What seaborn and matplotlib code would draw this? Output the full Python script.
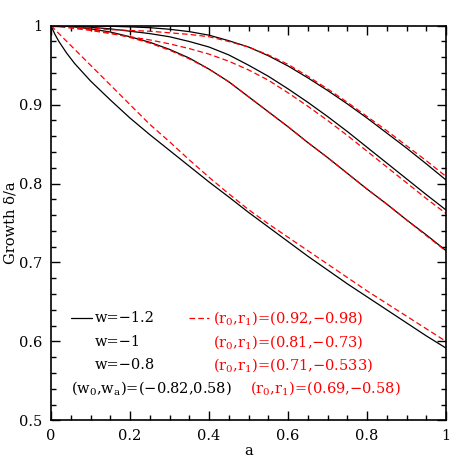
import numpy as np
import pandas as pd
import matplotlib
matplotlib.use("Agg")
import matplotlib.pyplot as plt
import seaborn as sns
from matplotlib.ticker import MultipleLocator, FuncFormatter

# ---- data ----
a_grid = [0, 0.05, 0.1, 0.15, 0.2, 0.25, 0.3, 0.35, 0.4, 0.45, 0.5,
          0.55, 0.6, 0.65, 0.7, 0.75, 0.8, 0.85, 0.9, 0.95, 1.0]

w_m12 = [1.000, 1.000, 0.9998, 0.9993, 0.9985, 0.9975, 0.9955, 0.9925, 0.988, 0.981, 0.973,
         0.962, 0.949, 0.934, 0.918, 0.901, 0.883, 0.864, 0.845, 0.825, 0.8045]
w_m10 = [1.000, 0.9995, 0.998, 0.996, 0.993, 0.990, 0.986, 0.980, 0.973, 0.963, 0.950,
         0.936, 0.920, 0.903, 0.885, 0.866, 0.846, 0.826, 0.806, 0.786, 0.7665]
w_m08 = [1.000, 0.999, 0.996, 0.992, 0.986, 0.979, 0.970, 0.959, 0.945, 0.929, 0.910,
         0.891, 0.872, 0.852, 0.833, 0.813, 0.793, 0.774, 0.754, 0.735, 0.715]

a_w0wa = [0, 0.01, 0.02, 0.04, 0.06, 0.08, 0.1, 0.15, 0.2, 0.25, 0.3, 0.35, 0.4, 0.45,
          0.5, 0.55, 0.6, 0.65, 0.7, 0.75, 0.8, 0.85, 0.9, 0.95, 1.0]
w_w0wa = [1.000, 0.989, 0.980, 0.965, 0.952, 0.941, 0.930, 0.906, 0.883, 0.862, 0.842,
          0.822, 0.802, 0.783, 0.7635, 0.745, 0.7265, 0.708, 0.6905, 0.673, 0.6565,
          0.640, 0.6235, 0.607, 0.5915]

r_092 = [1.000, 0.999, 0.997, 0.995, 0.994, 0.993, 0.991, 0.989, 0.986, 0.980, 0.973,
         0.963, 0.951, 0.936, 0.920, 0.903, 0.885, 0.867, 0.848, 0.829, 0.809]
r_081 = [1.000, 0.997, 0.994, 0.990, 0.986, 0.982, 0.977, 0.971, 0.964, 0.955, 0.944,
         0.931, 0.915, 0.898, 0.880, 0.861, 0.841, 0.821, 0.801, 0.781, 0.762]
r_071 = [1.000, 0.998, 0.995, 0.991, 0.985, 0.978, 0.969, 0.958, 0.945, 0.929, 0.910,
         0.891, 0.872, 0.852, 0.833, 0.813, 0.793, 0.774, 0.754, 0.734, 0.7145]
r_069 = [1.000, 0.975, 0.950, 0.925, 0.900, 0.875, 0.853, 0.830, 0.808, 0.787, 0.767,
         0.749, 0.732, 0.715, 0.698, 0.681, 0.664, 0.648, 0.632, 0.616, 0.600]

black_labels = ["w=\u22121.2", "w=\u22121", "w=\u22120.8",
                "(w$_0$,w$_\\mathrm{a}$)=(\u22120.82,0.58)"]
red_labels = ["(r$_0$,r$_1$)=(0.92,\u22120.98)", "(r$_0$,r$_1$)=(0.81,\u22120.73)",
              "(r$_0$,r$_1$)=(0.71,\u22120.533)", "(r$_0$,r$_1$)=(0.69,\u22120.58)"]

# ---- style ----
sns.set_theme(style="ticks")
plt.rcParams["font.family"] = ["DejaVu Serif"]
plt.rcParams["mathtext.fontset"] = "dejavuserif"

fig = plt.figure(figsize=(4.71, 4.71), dpi=100)
ax = fig.add_axes([51 / 471, 1 - 420.3 / 471, 395 / 471, 394.6 / 471])

lw = 0.9
for a_vals, y_vals in [(a_grid, w_m12), (a_grid, w_m10), (a_grid, w_m08), (a_w0wa, w_w0wa)]:
    df = pd.DataFrame({"a": a_vals, "g": y_vals})
    sns.lineplot(data=df, x="a", y="g", ax=ax, color="black", lw=lw,
                 estimator=None, sort=False)
for y_vals in [r_092, r_081, r_071, r_069]:
    df = pd.DataFrame({"a": a_grid, "g": y_vals})
    sns.lineplot(data=df, x="a", y="g", ax=ax, color="#ff0000", lw=lw,
                 estimator=None, sort=False, dashes=False)
for ln in ax.lines[4:]:
    ln.set_dashes([4.5, 2.5])

ax.set_xlim(0, 1)
ax.set_ylim(0.5, 1)
ax.xaxis.set_major_locator(MultipleLocator(0.2))
ax.xaxis.set_minor_locator(MultipleLocator(0.05))
ax.yaxis.set_major_locator(MultipleLocator(0.1))
ax.yaxis.set_minor_locator(MultipleLocator(0.02))
fmt = FuncFormatter(lambda v, p: f"{v:g}")
ax.xaxis.set_major_formatter(fmt)
ax.yaxis.set_major_formatter(fmt)
ax.tick_params(which="both", direction="in", top=True, right=True, width=1.0,
               color="black", labelsize=10.5, labelcolor="black")
ax.tick_params(which="major", length=6.5, pad=6)
ax.tick_params(which="minor", length=3.5)
for s in ax.spines.values():
    s.set_linewidth(1.2)
    s.set_color("black")
    s.set_visible(True)

ax.set_xlabel("a", fontsize=10.5, labelpad=1, color="black")
ax.set_ylabel("Growth \u03b4/a", fontsize=10.5, labelpad=1, color="black")

# ---- in-plot legend ----
def px(x, y):
    return ((x - 51) / 395, (420.3 - y) / 394.6)

fs = 10.5
rows_y = [318.3, 341.7, 365.0, 388.3]
x0, y0 = px(71, rows_y[0]); x1, _ = px(92, rows_y[0])
ax.plot([x0, x1], [y0, y0], transform=ax.transAxes, color="black", lw=lw)
x0, y0 = px(189, rows_y[0]); x1, _ = px(209, rows_y[0])
dl, = ax.plot([x0, x1], [y0, y0], transform=ax.transAxes, color="#ff0000", lw=lw)
dl.set_dashes([4.5, 2.5])

for i in range(3):
    tx, ty = px(95, rows_y[i])
    ax.text(tx, ty, black_labels[i], transform=ax.transAxes, fontsize=fs,
            color="black", va="center", ha="left")
    tx, ty = px(213, rows_y[i])
    ax.text(tx, ty, red_labels[i], transform=ax.transAxes, fontsize=fs,
            color="#ff0000", va="center", ha="left")
tx, ty = px(71, rows_y[3])
ax.text(tx, ty, black_labels[3], transform=ax.transAxes, fontsize=fs,
        color="black", va="center", ha="left")
tx, ty = px(250, rows_y[3])
ax.text(tx, ty, red_labels[3], transform=ax.transAxes, fontsize=fs,
        color="#ff0000", va="center", ha="left")

fig.savefig("out.png", dpi=100)
